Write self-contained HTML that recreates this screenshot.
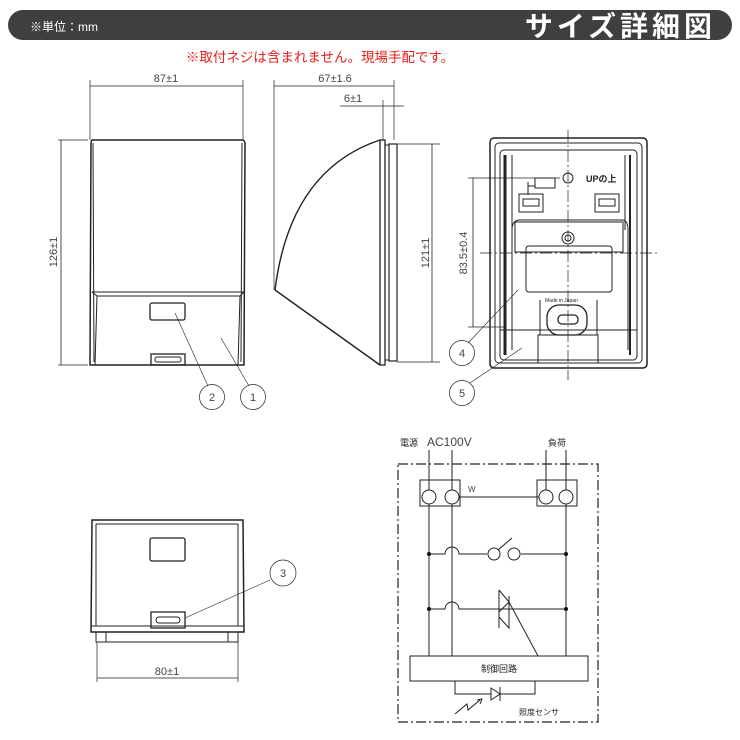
<!DOCTYPE html>
<html><head><meta charset="utf-8"><style>
body{margin:0;background:#fff;width:740px;height:740px;overflow:hidden}
svg{display:block}
text{font-family:"Liberation Sans","Noto Sans CJK JP",sans-serif}
</style></head><body>
<svg width="740" height="740" viewBox="0 0 740 740" xmlns="http://www.w3.org/2000/svg">
<!-- header -->
<rect x="8" y="10" width="724" height="30" rx="15" fill="#3f3f3f"/>
<text x="30" y="31" font-size="12" fill="#fff">※単位：mm</text>
<text x="716" y="36" font-size="28" font-weight="bold" fill="#fff" text-anchor="end" letter-spacing="4">サイズ詳細図</text>
<text x="320" y="62" font-size="13.5" fill="#e8201c" text-anchor="middle">※取付ネジは含まれません。現場手配です。</text>

<g stroke="#222" fill="none" stroke-width="1">
<!-- front view -->
<line x1="90" y1="80" x2="90" y2="140" stroke-width="0.7"/>
<line x1="243" y1="80" x2="243" y2="140" stroke-width="0.7"/>
<line x1="90" y1="86" x2="243" y2="86" stroke-width="0.8"/>
<line x1="58" y1="140" x2="88" y2="140" stroke-width="0.7"/>
<line x1="58" y1="365" x2="88" y2="365" stroke-width="0.7"/>
<line x1="61" y1="140" x2="61" y2="365" stroke-width="0.8"/>
<path d="M92 140 L243 140 Q245 141 245 144 L244 365 L90 365 L91 144 Q91 141 92 140Z" stroke-width="1.5"/>
<line x1="93" y1="143" x2="94" y2="362"/>
<line x1="242" y1="143" x2="241" y2="362"/>
<line x1="92" y1="292" x2="244" y2="292"/>
<path d="M95 365 L97 296 L240 296 L238 365" />
<path d="M92 292 L97 296 M244 292 L240 296"/>
<rect x="150" y="303" width="35" height="17" rx="2" stroke-width="1.3"/>
<rect x="151" y="354" width="34" height="11" stroke-width="1.3"/>
<rect x="155" y="357" width="26" height="5" rx="2"/>
<line x1="175" y1="313" x2="208" y2="386" stroke-width="0.6"/>
<line x1="221" y1="338" x2="249" y2="386" stroke-width="0.6"/>
<circle cx="212" cy="397" r="12.5" stroke-width="0.7"/>
<circle cx="253" cy="397" r="12.5" stroke-width="0.7"/>

<!-- side view -->
<line x1="274" y1="80" x2="274" y2="290" stroke-width="0.7"/>
<line x1="394" y1="80" x2="394" y2="140" stroke-width="0.7"/>
<line x1="274" y1="86" x2="394" y2="86" stroke-width="0.8"/>
<line x1="383" y1="100" x2="383" y2="140" stroke-width="0.7"/>
<line x1="340" y1="106" x2="404" y2="106" stroke-width="0.8"/>
<path d="M275 290 Q290 170 380 140" stroke-width="1.4"/>
<path d="M275 290 L380 365" stroke-width="1.4"/>
<rect x="380" y="140" width="5" height="225" stroke-width="1.3"/>
<rect x="385" y="145" width="4" height="215"/>
<rect x="389" y="144" width="8" height="217" stroke-width="1.2"/>
<line x1="397" y1="144" x2="440" y2="144" stroke-width="0.7"/>
<line x1="397" y1="362" x2="440" y2="362" stroke-width="0.7"/>
<line x1="432" y1="144" x2="432" y2="362" stroke-width="0.8"/>

<!-- back view -->
<rect x="490" y="138" width="157" height="230" rx="4" stroke-width="1.5"/>
<rect x="495" y="143" width="147" height="220" rx="4"/>
<rect x="500" y="150" width="137" height="210" rx="4"/>
<line x1="505" y1="155" x2="505" y2="355" stroke-width="3"/>
<line x1="630" y1="155" x2="630" y2="355" stroke-width="2"/>
<line x1="512" y1="155" x2="512" y2="230"/>
<line x1="625" y1="155" x2="625" y2="230"/>
<path d="M512 230 Q512 220 520 220 L622 220 Q628 220 628 230 L628 350 M512 230 L512 350"/>
<rect x="515" y="222" width="108" height="30"/>
<rect x="526" y="246" width="86" height="46" rx="3"/>
<circle cx="568" cy="238" r="6"/><circle cx="568" cy="238" r="3"/>
<circle cx="568" cy="178" r="5"/>
<rect x="519" y="194" width="24" height="18"/><rect x="523" y="199" width="16" height="7"/>
<rect x="595" y="194" width="24" height="18"/><rect x="599" y="199" width="16" height="7"/>
<path d="M535 178 L555 178 L555 188 L535 188 Z M528 186 L535 186 M528 182 L528 195"/>
<rect x="547" y="305" width="40" height="30" rx="12" stroke-width="1.3"/>
<rect x="558" y="315" width="20" height="9" rx="4" stroke-width="1.3"/>
<rect x="538" y="335" width="60" height="28"/>
<line x1="540" y1="300" x2="540" y2="335"/><line x1="597" y1="300" x2="597" y2="335"/>
<line x1="500" y1="330" x2="637" y2="330"/>
<line x1="568" y1="130" x2="568" y2="380" stroke-dasharray="12 3 2 3" stroke-width="0.7"/>
<line x1="480" y1="253" x2="660" y2="253" stroke-dasharray="12 3 2 3" stroke-width="0.7"/>
<line x1="468" y1="178" x2="560" y2="178" stroke-width="0.7"/>
<line x1="468" y1="327" x2="505" y2="327" stroke-width="0.7"/>
<line x1="473" y1="178" x2="473" y2="327" stroke-width="0.8"/>
<line x1="518" y1="290" x2="468" y2="343" stroke-width="0.6"/>
<line x1="522" y1="348" x2="470" y2="383" stroke-width="0.6"/>
<circle cx="462" cy="353" r="12.5" stroke-width="0.7"/>
<circle cx="462" cy="393" r="12.5" stroke-width="0.7"/>

<!-- bottom view -->
<path d="M92 520 L243 520 L244 632 L91 632 Z" stroke-width="1.5"/>
<line x1="96" y1="524" x2="96" y2="626"/>
<line x1="238" y1="524" x2="238" y2="626"/>
<line x1="96" y1="524" x2="238" y2="524"/>
<line x1="91" y1="626" x2="244" y2="626"/>
<rect x="150" y="538" width="35" height="23" rx="2" stroke-width="1.3"/>
<rect x="151" y="612" width="34" height="16" stroke-width="1.3"/>
<rect x="156" y="617" width="24" height="6" rx="3"/>
<rect x="96" y="632" width="10" height="10"/><rect x="228" y="632" width="10" height="10"/>
<line x1="96" y1="642" x2="238" y2="642"/>
<line x1="97" y1="642" x2="97" y2="682" stroke-width="0.7"/>
<line x1="238" y1="642" x2="238" y2="682" stroke-width="0.7"/>
<line x1="97" y1="678" x2="238" y2="678" stroke-width="0.8"/>
<line x1="185" y1="618" x2="270" y2="580" stroke-width="0.6"/>
<circle cx="283" cy="573" r="13" stroke-width="0.7"/>

<!-- circuit -->
<rect x="398" y="464" width="200" height="258" stroke-dasharray="10 3 2 3" stroke-width="1.2"/>
<rect x="420" y="480" width="40" height="26"/>
<rect x="537" y="480" width="40" height="26"/>
<line x1="429" y1="450" x2="429" y2="656"/>
<line x1="452" y1="450" x2="452" y2="656"/>
<line x1="546" y1="450" x2="546" y2="497"/>
<line x1="566" y1="450" x2="566" y2="656"/>
<line x1="459" y1="497" x2="539" y2="497"/>
<path d="M429 554 L445 554 A7 7 0 0 1 459 554 L487 554 M521 554 L566 554"/>
<circle cx="494" cy="554" r="6" fill="#fff"/><circle cx="514" cy="554" r="6" fill="#fff"/>
<line x1="498" y1="550" x2="512" y2="538"/>
<path d="M429 609 L445 609 A7 7 0 0 1 459 609 L566 609"/>
<path d="M499 590 L499 628 M499 590 L509 602 L499 612 M509 596 L509 628 L499 617 M509 602 L538 656"/>
<rect x="410" y="656" width="178" height="25" fill="#fff"/>
<path d="M455 681 L455 694 L535 694 L535 681"/>
<path d="M491 688 L491 700 L500 694 Z M500 687 L500 701" fill="#fff"/>
<path d="M455 714 L467 704 L468 710 L480 700 M477 700 L482 699 L480 704"/>
</g>
<g fill="#111">
<circle cx="429" cy="497" r="7" fill="#fff" stroke="#222"/>
<circle cx="452" cy="497" r="7" fill="#fff" stroke="#222"/>
<circle cx="546" cy="497" r="7" fill="#fff" stroke="#222"/>
<circle cx="566" cy="497" r="7" fill="#fff" stroke="#222"/>
<circle cx="429" cy="554" r="2"/><circle cx="566" cy="554" r="2"/>
<circle cx="429" cy="609" r="2"/><circle cx="566" cy="609" r="2"/>
</g>
<g fill="#444" font-size="11">
<text x="166" y="82" text-anchor="middle">87±1</text>
<text x="335" y="82" text-anchor="middle">67±1.6</text>
<text x="353" y="102" text-anchor="middle">6±1</text>
<text x="0" y="0" transform="translate(57,252) rotate(-90)" text-anchor="middle">126±1</text>
<text x="0" y="0" transform="translate(429,253) rotate(-90)" text-anchor="middle">121±1</text>
<text x="0" y="0" transform="translate(467,253) rotate(-90)" text-anchor="middle">83.5±0.4</text>
<text x="167" y="675" text-anchor="middle">80±1</text>
<text x="212" y="401" text-anchor="middle">2</text>
<text x="253" y="401" text-anchor="middle">1</text>
<text x="462" y="357" text-anchor="middle">4</text>
<text x="462" y="397" text-anchor="middle">5</text>
<text x="283" y="577" text-anchor="middle">3</text>
<text x="586" y="182" font-size="9" font-weight="bold" fill="#222">UPの上</text>
<text x="545" y="302" font-size="5" fill="#222">Made in Japan</text>
<text x="400" y="446" font-size="9" fill="#222">電源</text>
<text x="427" y="446" font-size="12">AC100V</text>
<text x="548" y="446" font-size="9" fill="#222">負荷</text>
<text x="468" y="492" font-size="8">W</text>
<text x="499" y="672" font-size="9" fill="#222" text-anchor="middle">制御回路</text>
<text x="519" y="715" font-size="8" fill="#222">照度センサ</text>
</g>
</svg>
</body></html>
